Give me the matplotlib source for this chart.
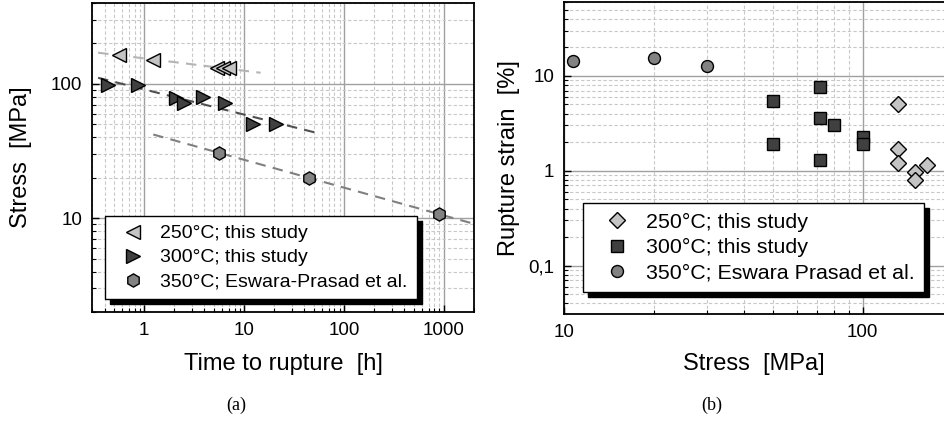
import numpy as np
import matplotlib

matplotlib.use("Agg")
import matplotlib.pyplot as plt
from matplotlib import ticker

plt.rcParams["font.family"] = ["Liberation Sans", "DejaVu Sans"]

# (a) stress vs time to rupture
t_250 = [0.56, 1.23, 5.3, 6.2, 7.0]
s_250 = [164, 151, 131, 131, 131]
t_300 = [0.435, 0.87, 2.1, 2.5, 3.9, 6.5, 12.3, 21]
s_300 = [98, 98, 79, 72, 80, 72, 50, 50]
t_350 = [5.65, 45, 890]
s_350 = [30.5, 20, 10.7]
fit_range_250 = [0.345, 14.6]
fit_range_300 = [0.345, 52]
fit_range_350 = [1.23, 2500]
labels_a = ["250°C; this study", "300°C; this study", "350°C; Eswara-Prasad et al."]

# (b) rupture strain vs stress
stress_250 = [131, 131, 131, 149, 149, 164]
strain_250 = [5.07, 1.7, 1.21, 0.98, 0.8, 1.16]
stress_300 = [50, 50, 72, 72, 72, 80, 100, 100]
strain_300 = [5.45, 1.92, 7.66, 3.6, 1.3, 3.05, 2.25, 1.9]
stress_350 = [10.7, 20, 30]
strain_350 = [14.4, 15.5, 12.7]
labels_b = ["250°C; this study", "300°C; this study", "350°C; Eswara Prasad et al."]

C250, C300, C350 = "#c4c4c4", "#404040", "#828282"


def style_log_axes(ax):
    ax.set_xscale("log")
    ax.set_yscale("log")
    for axis in (ax.xaxis, ax.yaxis):
        axis.set_major_locator(ticker.LogLocator(base=10, numticks=20))
        axis.set_minor_locator(ticker.LogLocator(base=10, subs=np.arange(2, 10), numticks=20))
        axis.set_minor_formatter(ticker.NullFormatter())
    ax.grid(which="major", color="#a0a0a0", lw=1.0, ls="-")
    ax.grid(which="minor", color="#c8c8c8", lw=0.8, ls=(0, (3, 2)))
    ax.set_axisbelow(True)
    ax.tick_params(which="both", direction="in", top=False, right=False, labelsize=13.5, pad=7)
    ax.tick_params(which="major", length=5, width=1)
    ax.tick_params(which="minor", length=3, width=0.8)
    for sp in ax.spines.values():
        sp.set_linewidth(1.3)


def fit_line(t, s, t_range):
    k, b = np.polyfit(np.log10(t), np.log10(s), 1)
    tt = np.array(t_range)
    return tt, 10 ** (k * np.log10(tt) + b)


def add_legend(fig, ax, handles, labels, anchor, size, hl, htp, ls):
    leg = ax.legend(handles, labels, loc="upper left", bbox_to_anchor=anchor,
                    bbox_transform=fig.transFigure, borderaxespad=0, fancybox=False,
                    edgecolor="black", framealpha=1, numpoints=1,
                    shadow={"ox": 3.6, "oy": -3.6, "color": "black", "alpha": 1},
                    prop={"size": size}, handlelength=hl, handletextpad=htp,
                    borderpad=0.45, labelspacing=ls)
    leg.get_frame().set_linewidth(1.0)
    return leg


fig = plt.figure(figsize=(9.44, 4.23), dpi=100)
ax1 = fig.add_axes([0.0975, 0.2624, 0.4047, 0.7305])
ax2 = fig.add_axes([0.5975, 0.2577, 0.4025, 0.7376])

# panel (a)
style_log_axes(ax1)
mk = dict(markeredgecolor="black", markeredgewidth=1.0, linestyle="none")
for t, s, rng, col in [(t_250, s_250, fit_range_250, "#b4b4b4"),
                       (t_300, s_300, fit_range_300, "#505050"),
                       (t_350, s_350, fit_range_350, "#808080")]:
    xx, yy = fit_line(t, s, rng)
    ax1.plot(xx, yy, color=col, lw=1.5, ls=(0, (5, 3.5)), zorder=2)
h1 = ax1.plot(t_250, s_250, marker="<", ms=9.5, markerfacecolor=C250, zorder=3, **mk)[0]
h2 = ax1.plot(t_300, s_300, marker=">", ms=9.5, markerfacecolor=C300, zorder=3, **mk)[0]
h3 = ax1.plot(t_350, s_350, marker="h", ms=9.5, markerfacecolor=C350, zorder=3, **mk)[0]
ax1.set_xlim(0.3, 2000)
ax1.set_ylim(2, 400)
ax1.xaxis.set_major_formatter(ticker.FuncFormatter(lambda v, _: f"{v:g}"))
ax1.yaxis.set_major_formatter(ticker.FuncFormatter(lambda v, _: f"{v:g}"))
ax1.set_xlabel("Time to rupture  [h]", fontsize=17)
ax1.set_ylabel("Stress  [MPa]", fontsize=17)
ax1.xaxis.set_label_coords(0.5, -0.133)
ax1.yaxis.set_label_coords(-0.157, 0.5)
add_legend(fig, ax1, [h1, h2, h3], labels_a, (105 / 944, 1 - 216 / 423), 14, 2.0, 0.4, 0.33)

# panel (b)
style_log_axes(ax2)
ax2.spines["right"].set_visible(False)
g1 = ax2.plot(stress_250, strain_250, marker="D", ms=8, markerfacecolor=C250, zorder=3, **mk)[0]
g2 = ax2.plot(stress_300, strain_300, marker="s", ms=8, markerfacecolor=C300, zorder=3, **mk)[0]
g3 = ax2.plot(stress_350, strain_350, marker="o", ms=8.6, markerfacecolor=C350, zorder=3, **mk)[0]
ax2.set_xlim(10, 187)
ax2.set_ylim(0.031, 60)
ax2.xaxis.set_major_formatter(ticker.FuncFormatter(lambda v, _: f"{v:g}"))
ax2.yaxis.set_major_formatter(ticker.FuncFormatter(lambda v, _: f"{v:g}".replace(".", ",")))
ax2.set_xlabel("Stress  [MPa]", fontsize=17)
ax2.set_ylabel("Rupture strain  [%]", fontsize=17)
ax2.xaxis.set_label_coords(0.5, -0.125)
ax2.yaxis.set_label_coords(-0.116, 0.5)
add_legend(fig, ax2, [g1, g2, g3], labels_b, (583 / 944, 1 - 203 / 423), 15.4, 2.3, 0.2, 0.3)

fig.text(236 / 944, 1 - 405 / 423, "(a)", family="Liberation Serif", fontsize=13, ha="center", va="center")
fig.text(712 / 944, 1 - 405 / 423, "(b)", family="Liberation Serif", fontsize=13, ha="center", va="center")

fig.savefig("out.png", dpi=100)
